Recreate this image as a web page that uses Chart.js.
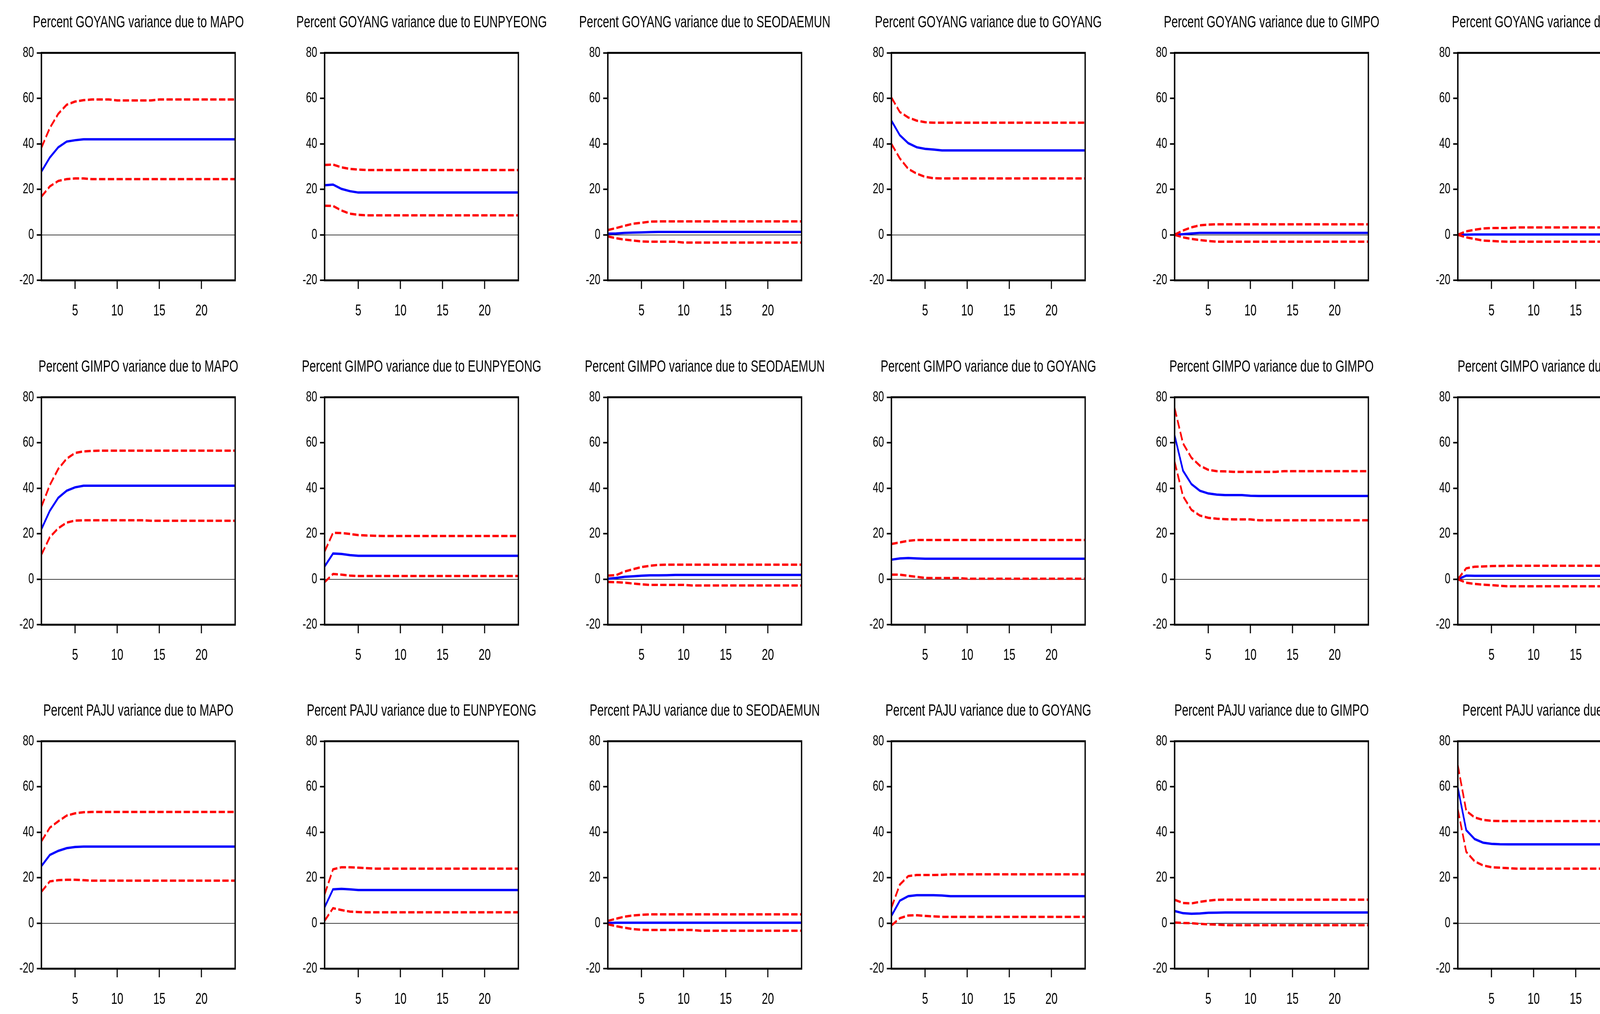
<!DOCTYPE html>
<html>
<head>
<meta charset="utf-8">
<script src="https://cdn.jsdelivr.net/npm/chart.js@4.4.0/dist/chart.umd.min.js"></script>
<style>
html, body { margin: 0; padding: 0; background: #fff; overflow: hidden; }
body { width: 4282px; height: 2597px; position: relative; }
.cell { position: absolute; width: 709px; height: 830px; overflow: hidden; }
.cell canvas { position: absolute; left: 0; top: 0; transform: scaleX(0.7); transform-origin: 0 0; }
</style>
</head>
<body>
<script>
// rows = variable explained, columns = shock source
var responses = ['GOYANG', 'GIMPO', 'PAJU'];
var shocks = ['MAPO', 'EUNPYEONG', 'SEODAEMUN', 'GOYANG', 'GIMPO', 'PAJU'];
var periods = [1,2,3,4,5,6,7,8,9,10,11,12,13,14,15,16,17,18,19,20,21,22,23,24];
var xTicks = [5, 10, 15, 20];

// GOYANG
var goyangMapoMean = [27.8,34.0,38.5,41.0,41.6,42.0,42.0,42.0,42.0,42.0,42.0,42.0,
  42.0,42.0,42.0,42.0,42.0,42.0,42.0,42.0,42.0,42.0,42.0,42.0];
var goyangMapoUpper = [38.3,47.0,53.2,57.2,58.6,59.2,59.5,59.5,59.5,59.1,59.1,59.1,
  59.1,59.1,59.5,59.5,59.5,59.5,59.5,59.5,59.5,59.5,59.5,59.5];
var goyangMapoLower = [16.8,21.3,23.7,24.5,24.8,24.8,24.5,24.5,24.5,24.5,24.5,24.5,
  24.5,24.5,24.5,24.5,24.5,24.5,24.5,24.5,24.5,24.5,24.5,24.5];

var goyangEunpyeongMean = [21.8,22.1,20.2,19.2,18.6,18.6,18.6,18.6,18.6,18.6,18.6,18.6,
  18.6,18.6,18.6,18.6,18.6,18.6,18.6,18.6,18.6,18.6,18.6,18.6];
var goyangEunpyeongUpper = [30.7,30.9,29.7,29.0,28.7,28.5,28.5,28.5,28.5,28.5,28.5,28.5,
  28.5,28.5,28.5,28.5,28.5,28.5,28.5,28.5,28.5,28.5,28.5,28.5];
var goyangEunpyeongLower = [12.8,12.7,10.7,9.3,8.8,8.6,8.6,8.6,8.6,8.6,8.6,8.6,
  8.6,8.6,8.6,8.6,8.6,8.6,8.6,8.6,8.6,8.6,8.6,8.6];

var goyangSeodaemunMean = [0.5,0.6,0.85,1.0,1.05,1.2,1.3,1.3,1.3,1.3,1.3,1.3,
  1.3,1.3,1.3,1.3,1.3,1.3,1.3,1.3,1.3,1.3,1.3,1.3];
var goyangSeodaemunUpper = [2.1,3.0,4.0,4.9,5.3,5.8,5.9,5.9,5.9,5.9,5.9,5.9,
  5.9,5.9,5.9,5.9,5.9,5.9,5.9,5.9,5.9,5.9,5.9,5.9];
var goyangSeodaemunLower = [-0.7,-1.5,-2.1,-2.5,-2.9,-3.0,-3.0,-3.0,-3.0,-3.4,-3.4,-3.4,
  -3.4,-3.4,-3.4,-3.4,-3.4,-3.4,-3.4,-3.4,-3.4,-3.4,-3.4,-3.4];

var goyangGoyangMean = [50.2,43.8,40.3,38.5,37.8,37.5,37.1,37.1,37.1,37.1,37.1,37.1,
  37.1,37.1,37.1,37.1,37.1,37.1,37.1,37.1,37.1,37.1,37.1,37.1];
var goyangGoyangUpper = [60.4,54.0,51.6,50.2,49.5,49.3,49.3,49.3,49.3,49.3,49.3,49.3,
  49.3,49.3,49.3,49.3,49.3,49.3,49.3,49.3,49.3,49.3,49.3,49.3];
var goyangGoyangLower = [40.0,33.6,29.0,26.9,25.5,24.9,24.8,24.8,24.8,24.8,24.8,24.8,
  24.8,24.8,24.8,24.8,24.8,24.8,24.8,24.8,24.8,24.8,24.8,24.8];

var goyangGimpoMean = [0.0,0.3,0.6,0.85,0.85,0.85,0.85,0.85,0.85,0.85,0.85,0.85,
  0.85,0.85,0.85,0.85,0.85,0.85,0.85,0.85,0.85,0.85,0.85,0.85];
var goyangGimpoUpper = [0.1,1.9,3.3,4.2,4.5,4.65,4.65,4.65,4.65,4.65,4.65,4.65,
  4.65,4.65,4.65,4.65,4.65,4.65,4.65,4.65,4.65,4.65,4.65,4.65];
var goyangGimpoLower = [0.0,-1.1,-1.8,-2.3,-2.7,-3.0,-3.0,-3.0,-3.0,-3.0,-3.0,-3.0,
  -3.0,-3.0,-3.0,-3.0,-3.0,-3.0,-3.0,-3.0,-3.0,-3.0,-3.0,-3.0];

var goyangPajuMean = [0.0,0.1,0.15,0.15,0.15,0.15,0.15,0.15,0.15,0.15,0.15,0.15,
  0.15,0.15,0.15,0.15,0.15,0.15,0.15,0.15,0.15,0.15,0.15,0.15];
var goyangPajuUpper = [0.1,1.55,2.25,2.8,3.0,3.0,3.0,3.25,3.25,3.25,3.25,3.25,
  3.25,3.25,3.25,3.25,3.25,3.25,3.25,3.25,3.25,3.25,3.25,3.25];
var goyangPajuLower = [0.0,-1.1,-1.8,-2.5,-2.7,-2.9,-3.0,-3.0,-3.0,-3.0,-3.0,-3.0,
  -3.0,-3.0,-3.0,-3.0,-3.0,-3.0,-3.0,-3.0,-3.0,-3.0,-3.0,-3.0];

// GIMPO
var gimpoMapoMean = [22.0,30.1,35.8,38.9,40.4,41.1,41.1,41.1,41.1,41.1,41.1,41.1,
  41.1,41.1,41.1,41.1,41.1,41.1,41.1,41.1,41.1,41.1,41.1,41.1];
var gimpoMapoUpper = [31.9,41.4,48.5,53.0,55.5,56.2,56.4,56.5,56.5,56.5,56.5,56.5,
  56.5,56.5,56.5,56.5,56.5,56.5,56.5,56.5,56.5,56.5,56.5,56.5];
var gimpoMapoLower = [10.8,18.5,22.4,24.9,25.8,25.9,25.9,25.9,25.9,25.9,25.9,25.9,
  25.9,25.7,25.7,25.7,25.7,25.7,25.7,25.7,25.7,25.7,25.7,25.7];

var gimpoEunpyeongMean = [5.6,11.3,11.1,10.6,10.3,10.3,10.3,10.3,10.3,10.3,10.3,10.3,
  10.3,10.3,10.3,10.3,10.3,10.3,10.3,10.3,10.3,10.3,10.3,10.3];
var gimpoEunpyeongUpper = [12.2,20.4,20.3,19.9,19.4,19.2,19.1,19.0,19.0,19.0,19.0,19.0,
  19.0,19.0,19.0,19.0,19.0,19.0,19.0,19.0,19.0,19.0,19.0,19.0];
var gimpoEunpyeongLower = [-1.3,2.3,2.0,1.6,1.4,1.4,1.4,1.4,1.4,1.4,1.4,1.4,
  1.4,1.4,1.4,1.4,1.4,1.4,1.4,1.4,1.4,1.4,1.4,1.4];

var gimpoSeodaemunMean = [0.2,0.55,1.05,1.3,1.55,1.7,1.7,1.75,1.9,1.9,1.9,1.9,
  1.9,1.9,1.9,1.9,1.9,1.9,1.9,1.9,1.9,1.9,1.9,1.9];
var gimpoSeodaemunUpper = [1.6,1.8,3.4,4.4,5.35,5.9,6.3,6.4,6.4,6.4,6.4,6.4,
  6.4,6.4,6.4,6.4,6.4,6.4,6.4,6.4,6.4,6.4,6.4,6.4];
var gimpoSeodaemunLower = [-1.2,-1.3,-1.5,-1.9,-2.25,-2.5,-2.5,-2.5,-2.5,-2.5,-2.75,-2.75,
  -2.75,-2.75,-2.75,-2.75,-2.75,-2.75,-2.75,-2.75,-2.75,-2.75,-2.75,-2.75];

var gimpoGoyangMean = [8.6,9.15,9.3,9.15,9.0,9.0,9.0,9.0,9.0,9.0,9.0,9.0,
  9.0,9.0,9.0,9.0,9.0,9.0,9.0,9.0,9.0,9.0,9.0,9.0];
var gimpoGoyangUpper = [15.5,16.2,16.9,17.25,17.25,17.25,17.25,17.25,17.25,17.25,17.25,17.25,
  17.25,17.25,17.25,17.25,17.25,17.25,17.25,17.25,17.25,17.25,17.25,17.25];
var gimpoGoyangLower = [2.0,2.0,1.5,1.05,0.55,0.5,0.5,0.5,0.5,0.2,0.2,0.2,
  0.2,0.2,0.2,0.2,0.2,0.2,0.2,0.2,0.2,0.2,0.2,0.2];

var gimpoGimpoMean = [63.2,47.7,41.8,38.9,37.7,37.2,37.0,37.0,37.0,36.7,36.6,36.6,
  36.6,36.6,36.6,36.6,36.6,36.6,36.6,36.6,36.6,36.6,36.6,36.6];
var gimpoGimpoUpper = [75.2,59.7,53.4,49.9,48.1,47.5,47.4,47.2,47.2,47.2,47.2,47.2,
  47.2,47.5,47.5,47.5,47.5,47.5,47.5,47.5,47.5,47.5,47.5,47.5];
var gimpoGimpoLower = [51.6,36.5,30.5,28.0,27.0,26.6,26.4,26.3,26.3,26.3,25.9,25.9,
  25.9,25.9,25.9,25.9,25.9,25.9,25.9,25.9,25.9,25.9,25.9,25.9];

var gimpoPajuMean = [0.0,1.6,1.5,1.5,1.5,1.5,1.5,1.5,1.5,1.5,1.5,1.5,
  1.5,1.5,1.5,1.5,1.5,1.5,1.5,1.5,1.5,1.5,1.5,1.5];
var gimpoPajuUpper = [0.0,4.8,5.5,5.6,5.8,5.85,5.9,5.9,5.9,5.9,5.9,5.9,
  5.9,5.9,5.9,5.9,5.9,5.9,5.9,5.9,5.9,5.9,5.9,5.9];
var gimpoPajuLower = [0.0,-1.55,-2.05,-2.4,-2.6,-2.9,-3.1,-3.1,-3.1,-3.1,-3.1,-3.1,
  -3.1,-3.1,-3.1,-3.1,-3.1,-3.1,-3.1,-3.1,-3.1,-3.1,-3.1,-3.1];

// PAJU
var pajuMapoMean = [25.1,30.0,31.8,33.0,33.5,33.7,33.7,33.7,33.7,33.7,33.7,33.7,
  33.7,33.7,33.7,33.7,33.7,33.7,33.7,33.7,33.7,33.7,33.7,33.7];
var pajuMapoUpper = [36.0,42.0,44.8,47.3,48.3,48.8,48.9,48.9,48.9,48.9,48.9,48.9,
  48.9,48.9,48.9,48.9,48.9,48.9,48.9,48.9,48.9,48.9,48.9,48.9];
var pajuMapoLower = [13.8,18.4,18.9,19.1,19.1,18.9,18.7,18.7,18.7,18.7,18.7,18.7,
  18.7,18.7,18.7,18.7,18.7,18.7,18.7,18.7,18.7,18.7,18.7,18.7];

var pajuEunpyeongMean = [7.0,14.9,15.1,14.9,14.6,14.6,14.6,14.6,14.6,14.6,14.6,14.6,
  14.6,14.6,14.6,14.6,14.6,14.6,14.6,14.6,14.6,14.6,14.6,14.6];
var pajuEunpyeongUpper = [12.7,23.7,24.6,24.6,24.4,24.2,24.0,24.0,24.0,24.0,24.0,24.0,
  24.0,24.0,24.0,24.0,24.0,24.0,24.0,24.0,24.0,24.0,24.0,24.0];
var pajuEunpyeongLower = [1.1,6.6,5.8,5.1,4.9,4.8,4.8,4.8,4.8,4.8,4.8,4.8,
  4.8,4.8,4.8,4.8,4.8,4.8,4.8,4.8,4.8,4.8,4.8,4.8];

var pajuSeodaemunMean = [0.1,0.2,0.2,0.2,0.2,0.2,0.2,0.2,0.2,0.2,0.2,0.2,
  0.2,0.2,0.2,0.2,0.2,0.2,0.2,0.2,0.2,0.2,0.2,0.2];
var pajuSeodaemunUpper = [1.0,2.0,2.9,3.4,3.7,3.9,3.9,3.9,3.9,3.9,3.9,3.9,
  3.9,3.9,3.9,3.9,3.9,3.9,3.9,3.9,3.9,3.9,3.9,3.9];
var pajuSeodaemunLower = [-0.5,-1.3,-2.0,-2.6,-2.9,-2.95,-2.95,-2.95,-2.95,-2.95,-2.95,-3.3,
  -3.3,-3.3,-3.3,-3.3,-3.3,-3.3,-3.3,-3.3,-3.3,-3.3,-3.3,-3.3];

var pajuGoyangMean = [3.2,9.9,11.9,12.3,12.3,12.3,12.2,11.9,11.9,11.9,11.9,11.9,
  11.9,11.9,11.9,11.9,11.9,11.9,11.9,11.9,11.9,11.9,11.9,11.9];
var pajuGoyangUpper = [6.8,17.0,20.7,21.2,21.2,21.2,21.3,21.5,21.5,21.5,21.5,21.5,
  21.5,21.5,21.5,21.5,21.5,21.5,21.5,21.5,21.5,21.5,21.5,21.5];
var pajuGoyangLower = [-1.0,2.2,3.4,3.5,3.2,3.0,2.8,2.8,2.8,2.8,2.8,2.8,
  2.8,2.8,2.8,2.8,2.8,2.8,2.8,2.8,2.8,2.8,2.8,2.8];

var pajuGimpoMean = [5.35,4.4,4.15,4.3,4.6,4.65,4.7,4.7,4.7,4.7,4.7,4.7,
  4.7,4.7,4.7,4.7,4.7,4.7,4.7,4.7,4.7,4.7,4.7,4.7];
var pajuGimpoUpper = [10.3,8.9,8.7,9.4,9.9,10.3,10.35,10.35,10.35,10.35,10.35,10.35,
  10.35,10.35,10.35,10.35,10.35,10.35,10.35,10.35,10.35,10.35,10.35,10.35];
var pajuGimpoLower = [0.3,0.1,0.0,-0.3,-0.5,-0.6,-0.85,-0.85,-0.85,-0.85,-0.85,-0.85,
  -0.85,-0.85,-0.85,-0.85,-0.85,-0.85,-0.85,-0.85,-0.85,-0.85,-0.85,-0.85];

var pajuPajuMean = [59.6,40.9,37.0,35.4,34.9,34.7,34.65,34.65,34.65,34.65,34.65,34.65,
  34.65,34.65,34.65,34.65,34.65,34.65,34.65,34.65,34.65,34.65,34.65,34.65];
var pajuPajuUpper = [69.4,49.4,46.5,45.4,45.0,44.9,44.9,44.9,44.9,44.9,44.9,44.9,
  44.9,44.9,44.9,44.9,44.9,44.9,44.9,44.9,44.9,44.9,44.9,44.9];
var pajuPajuLower = [50.0,31.4,27.2,25.4,24.6,24.4,24.2,24.0,24.0,24.0,24.0,24.0,
  24.0,24.0,24.0,24.0,24.0,24.0,24.0,24.0,24.0,24.0,24.0,24.0];

// [mean, upper, lower] for each row/column
var grid = [
  [[goyangMapoMean, goyangMapoUpper, goyangMapoLower],
   [goyangEunpyeongMean, goyangEunpyeongUpper, goyangEunpyeongLower],
   [goyangSeodaemunMean, goyangSeodaemunUpper, goyangSeodaemunLower],
   [goyangGoyangMean, goyangGoyangUpper, goyangGoyangLower],
   [goyangGimpoMean, goyangGimpoUpper, goyangGimpoLower],
   [goyangPajuMean, goyangPajuUpper, goyangPajuLower]],
  [[gimpoMapoMean, gimpoMapoUpper, gimpoMapoLower],
   [gimpoEunpyeongMean, gimpoEunpyeongUpper, gimpoEunpyeongLower],
   [gimpoSeodaemunMean, gimpoSeodaemunUpper, gimpoSeodaemunLower],
   [gimpoGoyangMean, gimpoGoyangUpper, gimpoGoyangLower],
   [gimpoGimpoMean, gimpoGimpoUpper, gimpoGimpoLower],
   [gimpoPajuMean, gimpoPajuUpper, gimpoPajuLower]],
  [[pajuMapoMean, pajuMapoUpper, pajuMapoLower],
   [pajuEunpyeongMean, pajuEunpyeongUpper, pajuEunpyeongLower],
   [pajuSeodaemunMean, pajuSeodaemunUpper, pajuSeodaemunLower],
   [pajuGoyangMean, pajuGoyangUpper, pajuGoyangLower],
   [pajuGimpoMean, pajuGimpoUpper, pajuGimpoLower],
   [pajuPajuMean, pajuPajuUpper, pajuPajuLower]]
];

var FONT = "'Liberation Sans', Arial, sans-serif";
var CW = 1012, CH = 830;  // canvas size before the css squeeze (0.7 wide)

function pts(arr) {
  return periods.map(function (p, i) { return { x: p, y: arr[i] }; });
}

// black box round the plot area
var frame = {
  id: 'frame',
  afterDraw: function (chart) {
    var a = chart.chartArea, ctx = chart.ctx;
    ctx.save();
    ctx.strokeStyle = '#000';
    ctx.lineWidth = 5;
    ctx.strokeRect(a.left, a.top, a.right - a.left, a.bottom - a.top);
    ctx.restore();
  }
};

function makeChart(canvas, title, s) {
  var red = { borderColor: '#ff0000', borderWidth: 6, borderDash: [23, 9] };
  new Chart(canvas, {
    type: 'line',
    data: {
      datasets: [
        Object.assign({ data: pts(s[1]) }, red),
        Object.assign({ data: pts(s[2]) }, red),
        { data: pts(s[0]), borderColor: '#0000ff', borderWidth: 6 }
      ]
    },
    options: {
      responsive: false,
      animation: false,
      devicePixelRatio: 1,
      layout: { padding: 0 },
      elements: { point: { radius: 0 }, line: { tension: 0, fill: false } },
      plugins: {
        legend: { display: false },
        tooltip: { enabled: false },
        title: {
          display: true, text: title, color: '#000',
          font: { family: FONT, size: 42, weight: 'normal', lineHeight: 1.2 },
          padding: { top: 33, bottom: 52 }
        }
      },
      scales: {
        x: {
          type: 'linear', min: 1, max: 24,
          afterBuildTicks: function (sc) { sc.ticks = xTicks.map(function (v) { return { value: v }; }); },
          afterFit: function (sc) { sc.height = 112; },
          border: { display: false },
          grid: { drawOnChartArea: false, tickLength: 22, tickWidth: 4, tickColor: '#000' },
          ticks: { color: '#000', font: { family: FONT, size: 40 }, padding: 33, maxRotation: 0, autoSkip: false }
        },
        y: {
          min: -20, max: 80,
          afterFit: function (sc) { sc.width = 151.4; },
          border: { display: false },
          grid: {
            color: function (c) { return c.tick && c.tick.value === 0 ? '#000' : 'rgba(0,0,0,0)'; },
            lineWidth: 1.5, tickLength: 17, tickWidth: 4, tickColor: '#000'
          },
          ticks: { stepSize: 20, color: '#000', font: { family: FONT, size: 37 }, padding: 10 }
        },
        // empty right margin so the title centres over the plot box
        side: {
          position: 'right',
          afterFit: function (sc) { sc.width = 152; },
          border: { display: false },
          grid: { display: false },
          ticks: { display: false }
        }
      }
    },
    plugins: [frame]
  });
}

for (var r = 0; r < responses.length; r++) {
  for (var c = 0; c < shocks.length; c++) {
    var cell = document.createElement('div');
    cell.className = 'cell';
    cell.style.left = (c * 725.2) + 'px';
    cell.style.top = (r * 881.5) + 'px';
    var cv = document.createElement('canvas');
    cv.width = CW;
    cv.height = CH;
    cv.style.width = CW + 'px';
    cv.style.height = CH + 'px';
    cell.appendChild(cv);
    document.body.appendChild(cell);
    makeChart(cv, 'Percent ' + responses[r] + ' variance due to ' + shocks[c], grid[r][c]);
  }
}
</script>
</body>
</html>
